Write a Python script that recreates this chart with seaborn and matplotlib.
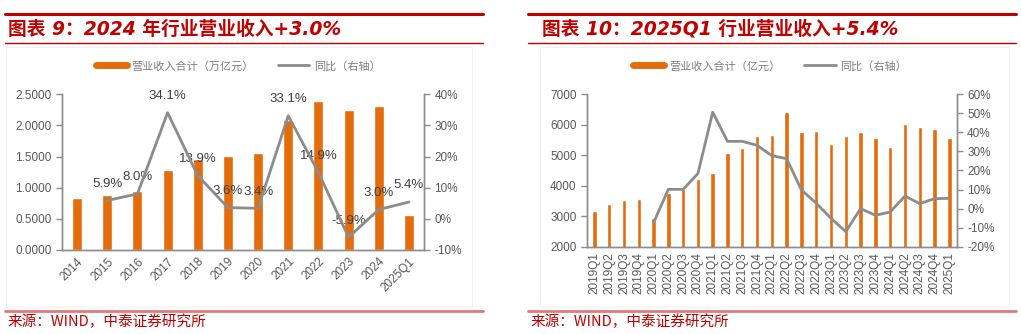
import numpy as np
import matplotlib
matplotlib.use("Agg")
import matplotlib.pyplot as plt
from matplotlib.lines import Line2D
import seaborn as sns

sns.set_style("white")
plt.rcParams["font.family"] = ["Liberation Sans", "Noto Sans CJK SC", "DejaVu Sans"]

# ---- annual revenue (trillion yuan) and YoY growth (%) ----
years = ["2014", "2015", "2016", "2017", "2018", "2019", "2020",
         "2021", "2022", "2023", "2024", "2025Q1"]
annual_rev = [0.84, 0.88, 0.95, 1.28, 1.46, 1.51, 1.56,
              2.08, 2.39, 2.25, 2.31, 0.56]
annual_yoy = [np.nan, 5.9, 8.0, 34.1, 13.9, 3.6, 3.4,
              33.1, 14.9, -5.9, 3.0, 5.4]

# ---- quarterly revenue (100 million yuan) and YoY growth (%) ----
quarters = ["2019Q1", "2019Q2", "2019Q3", "2019Q4",
            "2020Q1", "2020Q2", "2020Q3", "2020Q4",
            "2021Q1", "2021Q2", "2021Q3", "2021Q4",
            "2022Q1", "2022Q2", "2022Q3", "2022Q4",
            "2023Q1", "2023Q2", "2023Q3", "2023Q4",
            "2024Q1", "2024Q2", "2024Q3", "2024Q4", "2025Q1"]
quarter_rev = [3170, 3400, 3520, 3565,
               2930, 3750, 3905, 4220,
               4420, 5075, 5250, 5620,
               5655, 6420, 5775, 5785,
               5370, 5645, 5775, 5580,
               5270, 6025, 5915, 5860, 5565]
quarter_yoy = [np.nan, np.nan, np.nan, np.nan,
               -7.4, 10.1, 10.1, 18.4,
               50.6, 35.3, 35.3, 33.2,
               27.8, 26.2, 9.8, 2.8,
               -5.1, -12.1, 0.0, -3.5,
               -1.8, 6.6, 2.6, 5.2, 5.4]

ORANGE = "#E46C0A"
GRAY_LINE = "#8C8C8C"
AXIS_GRAY = "#8C8C8C"
TICK_TXT = "#595959"
RED = "#C00000"
PINK = "#E07A7A"

W, H = 1021, 334
fig = plt.figure(figsize=(W / 100, H / 100), dpi=100)


def fx(px):
    return px / W


def fy(py):
    return 1 - py / H


def style_axes(ax, ax2, n, xrot):
    for a in (ax, ax2):
        a.spines["top"].set_visible(False)
        for s in ("left", "right", "bottom"):
            a.spines[s].set_color(AXIS_GRAY)
            a.spines[s].set_linewidth(1.0)
        a.tick_params(axis="y", colors=AXIS_GRAY, labelcolor=TICK_TXT,
                      labelsize=8.5, length=4, width=1, direction="out")
    ax.set_xlim(-0.5, n - 0.5)
    ax.set_xticks(np.arange(n))
    ax.set_xticks(np.arange(-0.5, n, 1.0), minor=True)
    ax.tick_params(axis="x", which="major", length=0, labelsize=8.5,
                   labelcolor=TICK_TXT, pad=4)
    ax.tick_params(axis="x", which="minor", length=4, width=1,
                   color=AXIS_GRAY, direction="out")
    for lab in ax.get_xticklabels():
        if xrot == 45:
            lab.set_rotation(45)
            lab.set_ha("right")
            lab.set_va("top")
            lab.set_rotation_mode("anchor")
        else:
            lab.set_rotation(90)
            lab.set_ha("center")
            lab.set_va("top")
    ax.set_xlabel("")
    ax.set_ylabel("")
    ax2.set_ylabel("")
    ax.grid(False)
    ax2.grid(False)


def draw_panel(left_px, right_px, top_px, bottom_px, cats, rev, yoy,
               bar_w, ylim, yticks, yfmt, y2lim, y2ticks, xrot, labels):
    ax = fig.add_axes([fx(left_px), fy(bottom_px),
                       fx(right_px - left_px), (bottom_px - top_px) / H])
    sns.barplot(x=cats, y=rev, color=ORANGE, saturation=1, width=bar_w,
                ax=ax, zorder=2)
    ax.set_ylim(*ylim)
    ax.set_yticks(yticks)
    ax.set_yticklabels([yfmt(v) for v in yticks])

    ax2 = ax.twinx()
    idx = np.arange(len(cats))
    yoy_arr = np.asarray(yoy, dtype=float)
    ok = ~np.isnan(yoy_arr)
    sns.lineplot(x=idx[ok], y=yoy_arr[ok], color=GRAY_LINE, linewidth=2.0,
                 ax=ax2, legend=False, zorder=3)
    ax2.set_ylim(*y2lim)
    ax2.set_yticks(y2ticks)
    ax2.set_yticklabels([f"{int(v)}%" for v in y2ticks])
    style_axes(ax, ax2, len(cats), xrot)
    ax.patch.set_visible(False)

    if labels:
        # value labels: over the bars, under the growth line
        for i in idx[ok]:
            ax2.annotate(f"{yoy_arr[i]:.1f}%", xy=(i, yoy_arr[i]),
                         xytext=(0, 12), textcoords="offset points",
                         ha="center", va="center", fontsize=9.5,
                         color="#404040", zorder=2, annotation_clip=False)
    return ax, ax2


# left panel: annual
draw_panel(62, 424, 94.3, 250, years, annual_rev, annual_yoy, 0.33,
           (0, 2.5), [0, 0.5, 1.0, 1.5, 2.0, 2.5], lambda v: f"{v:.4f}",
           (-10, 40), [-10, 0, 10, 20, 30, 40], 45, True)

# right panel: quarterly
draw_panel(587, 956.7, 94.3, 246.7, quarters, quarter_rev, quarter_yoy, 0.3,
           (2000, 7000), [2000, 3000, 4000, 5000, 6000, 7000],
           lambda v: f"{int(v)}",
           (-20, 60), [-20, -10, 0, 10, 20, 30, 40, 50, 60], 90, False)

# panel frames, rules, titles, legends and sources
panels = [
    dict(x0=5, x1=483, box=(6, 472), title="图表 9：2024 年行业营业收入+3.0%",
         tx=8, leg_x=238, leg_label="营业收入合计（万亿元）"),
    dict(x0=528, x1=1016, box=(540, 1009), title="图表 10：2025Q1 行业营业收入+5.4%",
         tx=542, leg_x=770, leg_label="营业收入合计（亿元）"),
]
for p in panels:
    fig.add_artist(Line2D([fx(p["x0"]), fx(p["x1"])], [fy(14), fy(14)],
                          color=RED, lw=2.2, transform=fig.transFigure))
    fig.add_artist(Line2D([fx(p["x0"]), fx(p["x1"])], [fy(43), fy(43)],
                          color=RED, lw=1.0, transform=fig.transFigure))
    fig.add_artist(Line2D([fx(p["x0"]), fx(p["x1"])], [fy(311), fy(311)],
                          color=PINK, lw=2.0, transform=fig.transFigure))
    bx0, bx1 = p["box"]
    fig.add_artist(plt.Rectangle((fx(bx0), fy(307)), fx(bx1 - bx0),
                                 (307 - 47) / H, fill=False,
                                 edgecolor="#F0F0F0", lw=0.8,
                                 transform=fig.transFigure, zorder=0))
    fig.text(fx(p["tx"]), fy(29), p["title"], color=RED, fontsize=13.5,
             fontweight="bold", fontstyle="italic", va="center", ha="left",
             family=["DejaVu Sans", "Noto Sans CJK SC"])
    fig.text(fx(p["x0"] + 3), fy(322), "来源：WIND，中泰证券研究所",
             color=RED, fontsize=10.5, va="center", ha="left",
             family=["Noto Sans CJK SC"])
    handles = [Line2D([], [], color=ORANGE, lw=5),
               Line2D([], [], color=GRAY_LINE, lw=2)]
    fig.legend(handles, [p["leg_label"], "同比（右轴）"], loc="center",
               bbox_to_anchor=(fx(p["leg_x"]), fy(66)), ncol=2,
               frameon=False, handlelength=2.8,
               columnspacing=2.2, handletextpad=0.4, labelcolor="#7F7F7F",
               prop={"family": ["Noto Sans CJK SC"], "size": 8})

fig.savefig("out.png", dpi=100)
